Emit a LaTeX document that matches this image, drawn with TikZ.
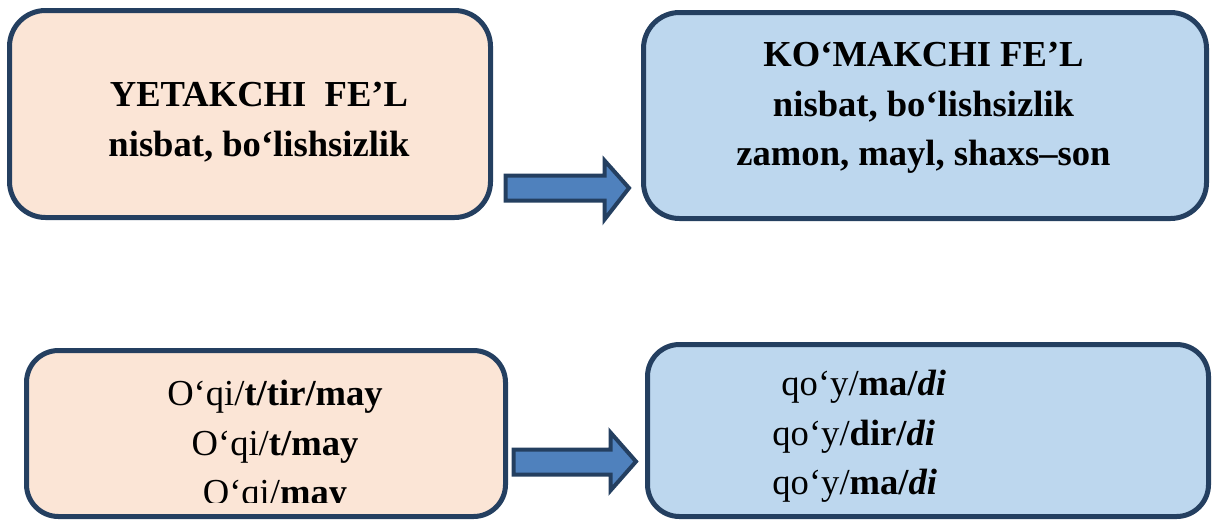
\documentclass[tikz,border=0pt]{standalone}
\usepackage{fontspec}
\setmainfont{Liberation Serif}
\usepackage{tikz}
\usetikzlibrary{positioning}
\definecolor{framenavy}{RGB}{36,63,96}
\definecolor{peachfill}{RGB}{251,229,214}
\definecolor{skyfill}{RGB}{189,215,238}
\definecolor{arrowblue}{RGB}{79,129,189}

\begin{document}
\begin{tikzpicture}[x=0.5pt,y=-0.5pt,
    verbbox/.style={draw=framenavy,line width=2.5pt,rounded corners=18pt,inner sep=0pt},
    verbtext/.style={inner sep=0pt,align=center,font=\fontsize{18.3}{24.75}\selectfont},
    boldtext/.style={verbtext,font=\fontsize{18.3}{24.75}\selectfont\bfseries},
    blockarrow/.style={draw=framenavy,fill=arrowblue,line width=2pt}]
                \useasboundingbox (0,0) rectangle (1213,520);
                % Top row
                \node[verbbox,fill=peachfill,minimum width=240.5pt,minimum height=103.5pt] (lead) at (250,114) {};
                \node[verbbox,fill=skyfill,minimum width=281.5pt,minimum height=103pt] (aux) at (925,115.5) {};
                \node[boldtext] (leadtext) at (259,122) {YETAKCHI\ \ FE’L\\nisbat, bo‘lishsizlik};
                \node[boldtext] (auxtext) at (923.5,108) {KO‘MAKCHI FE’L\\nisbat, bo‘lishsizlik\\zamon, mayl, shaxs–son};
                \draw[blockarrow] (505.5,175.5) -- (604.5,175.5) -- (604.5,160.5) -- (629,188)
                    -- (604.5,219.5) -- (604.5,200.5) -- (505.5,200.5) -- cycle;
                % Bottom row
                \node[verbbox,fill=peachfill,rounded corners=16pt,minimum width=239.5pt,minimum height=83pt] (form) at (266,433.5) {};
                \node[verbbox,fill=skyfill,rounded corners=16pt,minimum width=280.5pt,minimum height=86pt] (auxform) at (928,430.5) {};
                \begin{scope}
                    \clip (26.5,350.5) rectangle (505.5,502);
                    \node[verbtext] (formtext) at (275,446.5) {O‘qi/\textbf{t/tir/may}\\O‘qi/\textbf{t/may}\\O‘qi/\textbf{may}};
                \end{scope}
                \node[verbtext,align=left,anchor=west] (auxformtext) at (772,436.5)
                    {\hspace*{4.5pt}qo‘y/\textbf{ma/\textit{di}}\\qo‘y/\textbf{dir/\textit{di}}\\qo‘y/\textbf{ma/\textit{di}}};
                \draw[blockarrow] (513.5,449.5) -- (610.5,449.5) -- (610.5,432.5) -- (636,461.5)
                    -- (610.5,490.5) -- (610.5,474.5) -- (513.5,474.5) -- cycle;
            \end{tikzpicture}
\end{document}
